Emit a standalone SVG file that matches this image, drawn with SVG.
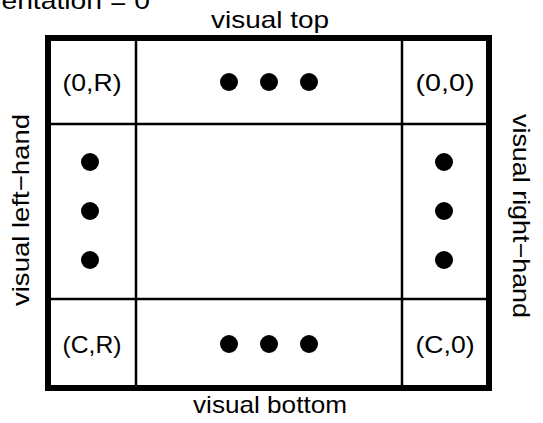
<svg xmlns="http://www.w3.org/2000/svg" width="543" height="423" viewBox="0 0 543 423">
<style>
  text { font-family: "Liberation Sans", "Noto Sans CJK JP", sans-serif; font-size: 24px; fill: #000; }
  .mid { text-anchor: middle; }
  .outer { fill: none; stroke: #000; stroke-width: 6; }
  .inner { fill: none; stroke: #000; stroke-width: 2.5; }
  .dot { fill: #000; }
</style>
<rect width="543" height="423" fill="#fff"/>
<text x="-30" y="9" textLength="180" lengthAdjust="spacingAndGlyphs">orientation = 0</text>
<text class="mid" x="270" y="28" textLength="118" lengthAdjust="spacingAndGlyphs">visual top</text>
<text class="mid" x="270" y="413" textLength="154" lengthAdjust="spacingAndGlyphs">visual bottom</text>
<text class="mid" transform="translate(29,210) rotate(-90)" textLength="192" lengthAdjust="spacingAndGlyphs">visual left−hand</text>
<text class="mid" transform="translate(513,216) rotate(90)" textLength="204" lengthAdjust="spacingAndGlyphs">visual right−hand</text>
<g id="connectors">
  <line class="inner" x1="136" y1="38" x2="136" y2="388"/>
  <line class="inner" x1="402" y1="38" x2="402" y2="388"/>
  <line class="inner" x1="48" y1="124" x2="489" y2="124"/>
  <line class="inner" x1="48" y1="299" x2="489" y2="299"/>
  <rect class="outer" x="48" y="38" width="441" height="350"/>
</g>
<g id="cell-0R"><text class="mid" x="92" y="91" textLength="59" lengthAdjust="spacingAndGlyphs">(0,R)</text></g>
<g id="cell-00"><text class="mid" x="445" y="91" textLength="59" lengthAdjust="spacingAndGlyphs">(0,0)</text></g>
<g id="cell-CR"><text class="mid" x="92" y="353" textLength="59" lengthAdjust="spacingAndGlyphs">(C,R)</text></g>
<g id="cell-C0"><text class="mid" x="445" y="353" textLength="59" lengthAdjust="spacingAndGlyphs">(C,0)</text></g>
<g id="dots-top"><circle class="dot" cx="229" cy="82" r="9"/><circle class="dot" cx="269" cy="82" r="9"/><circle class="dot" cx="309" cy="82" r="9"/></g>
<g id="dots-bottom"><circle class="dot" cx="229" cy="344" r="9"/><circle class="dot" cx="269" cy="344" r="9"/><circle class="dot" cx="309" cy="344" r="9"/></g>
<g id="dots-left"><circle class="dot" cx="90" cy="162" r="9"/><circle class="dot" cx="90" cy="211" r="9"/><circle class="dot" cx="90" cy="260" r="9"/></g>
<g id="dots-right"><circle class="dot" cx="444" cy="162" r="9"/><circle class="dot" cx="444" cy="211" r="9"/><circle class="dot" cx="444" cy="260" r="9"/></g>
</svg>
